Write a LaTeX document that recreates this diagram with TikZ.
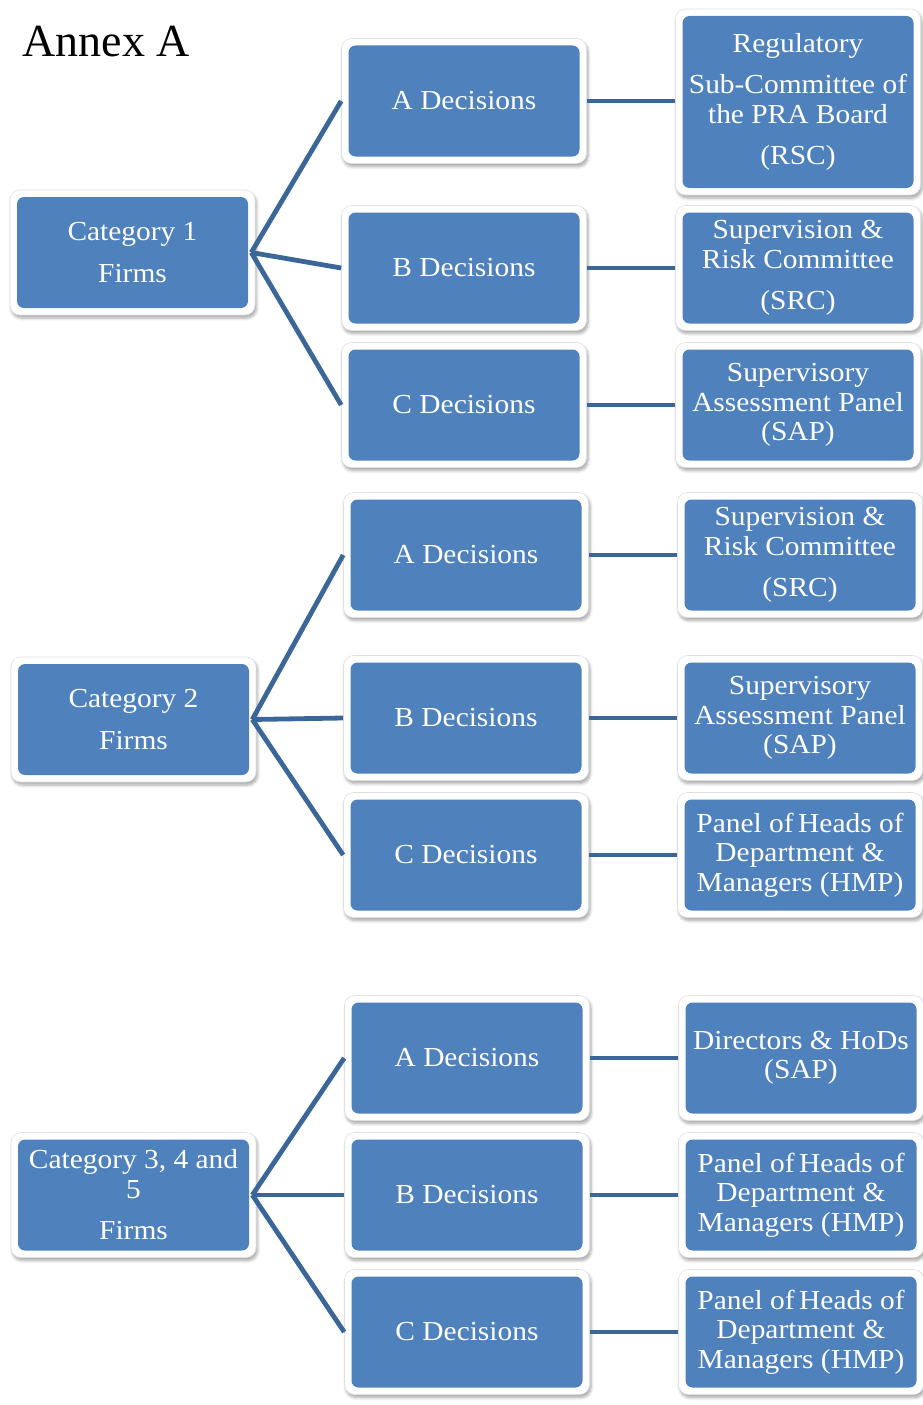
\documentclass[tikz,border=0pt]{standalone}
\usepackage{fontspec}
\setmainfont[FakeStretch=1.07]{Liberation Serif}
\newfontfamily\plainserif{Liberation Serif}
\usetikzlibrary{shadows.blur}
\definecolor{boxblue}{HTML}{4F81BD}
\definecolor{linkblue}{HTML}{3B6798}
\newcommand\bxfont{\fontsize{27.5}{29.5}\selectfont}
\tikzset{
  box/.style={rectangle, rounded corners=10pt, fill=white, draw=black!12, line width=0.6pt,
    minimum width=245pt, minimum height=125pt, inner sep=0pt, text=white, align=center,
    font=\bxfont,
    blur shadow={shadow blur steps=6, shadow xshift=1.5pt, shadow yshift=-3pt, shadow opacity=35, shadow blur radius=3pt},
    path picture={\fill[boxblue, rounded corners=7pt]
      ([shift={(7pt,7pt)}]path picture bounding box.south west) rectangle
      ([shift={(-7pt,-7pt)}]path picture bounding box.north east);}},
  tallbox/.style={box, minimum height=186pt},
  conn/.style={draw=linkblue, line width=4.8pt}
}
\begin{document}
\begin{tikzpicture}[x=1pt,y=-1pt]
\useasboundingbox (0,0) rectangle (922,1405);
\node[anchor=base west, font=\plainserif\fontsize{46}{46}\selectfont] (title) at (19,57) {Annex A};

% Category 1
\node[box] (c1) at (132.5,252.5) {Category 1\\[12pt]Firms};
\node[box] (a1) at (464,101) {A Decisions};
\node[box] (b1) at (464,268) {B Decisions};
\node[box] (d1) at (464,405) {C Decisions};
\node[tallbox] (ra1) at (798,102) {Regulatory\\[12pt]Sub-Committee of\\the PRA Board\\[12pt](RSC)};
\node[box] (rb1) at (798,268) {Supervision \&\\Risk Committee\\[12pt](SRC)};
\node[box] (rd1) at (798,405) {Supervisory\\Assessment Panel\\(SAP)};

% Category 2
\node[box] (c2) at (133.5,719.5) {Category 2\\[12pt]Firms};
\node[box] (a2) at (466,555) {A Decisions};
\node[box] (b2) at (466,718) {B Decisions};
\node[box] (d2) at (466,855) {C Decisions};
\node[box] (ra2) at (800,555) {Supervision \&\\Risk Committee\\[12pt](SRC)};
\node[box] (rb2) at (800,718) {Supervisory\\Assessment Panel\\(SAP)};
\node[box] (rd2) at (800,855) {Panel of\,Heads of\\Department \&\\Managers (HMP)};

% Category 3,4,5
\node[box] (c3) at (133.5,1195) {Category 3, 4 and\\5\\[12pt]Firms};
\node[box] (a3) at (467,1058) {A Decisions};
\node[box] (b3) at (467,1195) {B Decisions};
\node[box] (d3) at (467,1332) {C Decisions};
\node[box] (ra3) at (801,1058) {Directors \& HoDs\\(SAP)};
\node[box] (rb3) at (801,1195) {Panel of\,Heads of\\Department \&\\Managers (HMP)};
\node[box] (rd3) at (801,1332) {Panel of\,Heads of\\Department \&\\Managers (HMP)};

% connectors
\foreach \c/\a/\b/\d in {c1/a1/b1/d1, c2/a2/b2/d2, c3/a3/b3/d3}{
  \draw[conn] ([xshift=-4pt]\c.east) -- (\a.west);
  \draw[conn] ([xshift=-4pt]\c.east) -- (\b.west);
  \draw[conn] ([xshift=-4pt]\c.east) -- (\d.west);
}
\foreach \s/\t in {a1/ra1, b1/rb1, d1/rd1, a2/ra2, b2/rb2, d2/rd2, a3/ra3, b3/rb3, d3/rd3}{
  \draw[conn] (\s.east) -- (\s.east -| \t.west);
}
\end{tikzpicture}
\end{document}
